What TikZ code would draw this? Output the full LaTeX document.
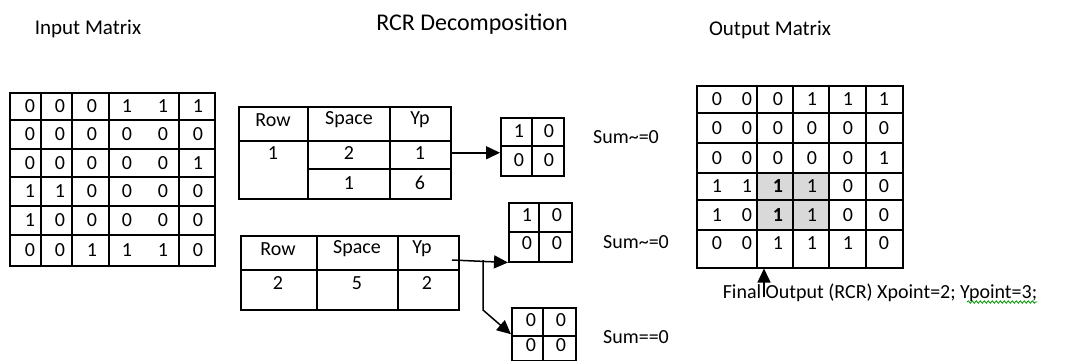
\documentclass[tikz,border=0pt]{standalone}
\usepackage{fontspec}
\setmainfont{Carlito}
\usetikzlibrary{arrows.meta,decorations.pathmorphing}

\tikzset{
  frame/.style={draw=black, line width=1.5pt, inner sep=0pt, anchor=north west},
  rule/.style={draw=black, line width=1.5pt},
  val/.style={font=\fontsize{20}{24}\selectfont, inner sep=0pt},
  title/.style={font=\fontsize{21}{24}\selectfont, inner sep=0pt},
  flow/.style={-{Triangle[length=14pt,width=13pt]}, line width=1.5pt},
}

\begin{document}
\begin{tikzpicture}[x=1pt,y=-1pt]
\useasboundingbox (0,0) rectangle (1067,360);

% headings
\node[title] (intitle) at (88,29) {Input Matrix};
\node[title, font=\fontsize{24}{28}\selectfont] (rcrtitle) at (472,24) {RCR Decomposition};
\node[title] (outtitle) at (770,30) {Output Matrix};

% input matrix
\node[frame, minimum width=205pt, minimum height=173pt] (inmat) at (9,92) {};
\foreach \x in {41,72,109,179} \draw[rule] (\x,92) -- (\x,265);
\foreach \y in {120,149,177,206,235} \draw[rule] (9,\y) -- (214,\y);
\foreach \row [count=\r] in {{0,0,0,1,1,1},{0,0,0,0,0,0},{0,0,0,0,0,1},{1,1,0,0,0,0},{1,0,0,0,0,0},{0,0,1,1,1,0}}
  \foreach \v [count=\c] in \row {
    \pgfmathsetmacro\xx{{30,60,92,127,163,198}[\c-1]}
    \pgfmathsetmacro\yy{{106,134,163,191,220,250}[\r-1]}
    \node[val] (in-\r-\c) at (\xx,\yy) {\v};
  }

% decomposition tables
\node[frame, minimum width=212pt, minimum height=92pt] (tabA) at (238,106) {};
\draw[rule] (308,106) -- (308,198);
\draw[rule] (390,106) -- (390,198);
\draw[rule] (238,141) -- (450,141);
\draw[rule] (308,169) -- (450,169);
\node[val] (tabA-row) at (273,120) {Row};
\node[val] (tabA-space) at (349,120) {Space};
\node[val] (tabA-yp) at (420,120) {Yp};
\node[val] (tabA-r) at (273,153) {1};
\node[val] (tabA-s1) at (349,153) {2};
\node[val] (tabA-y1) at (420,153) {1};
\node[val] (tabA-s2) at (349,183) {1};
\node[val] (tabA-y2) at (420,183) {6};

\node[frame, minimum width=218pt, minimum height=74pt] (tabB) at (240,235) {};
\draw[rule] (317,235) -- (317,309);
\draw[rule] (398,235) -- (398,309);
\draw[rule] (240,270) -- (458,270);
\node[val] (tabB-row) at (278,249) {Row};
\node[val] (tabB-space) at (357,249) {Space};
\node[val] (tabB-yp) at (422,249) {Yp};
\node[val] (tabB-r) at (278,283) {2};
\node[val] (tabB-s) at (357,283) {5};
\node[val] (tabB-y) at (427,283) {2};

% 2x2 blocks
\node[frame, minimum width=63pt, minimum height=58pt] (mA) at (500,117) {};
\draw[rule] (532,117) -- (532,175);
\draw[rule] (500,146) -- (563,146);
\node[val] (mA-11) at (519,131) {1};
\node[val] (mA-12) at (549,131) {0};
\node[val] (mA-21) at (519,160) {0};
\node[val] (mA-22) at (549,160) {0};

\node[frame, minimum width=63pt, minimum height=59pt] (mB) at (508,202) {};
\draw[rule] (539,202) -- (539,261);
\draw[rule] (508,232) -- (571,232);
\node[val] (mB-11) at (527,215) {1};
\node[val] (mB-12) at (557,215) {0};
\node[val] (mB-21) at (527,243) {0};
\node[val] (mB-22) at (557,243) {0};

\node[frame, minimum width=64pt, minimum height=53pt] (mC) at (511,307) {};
\draw[rule] (543,307) -- (543,360);
\draw[rule] (511,336) -- (575,336);
\node[val] (mC-11) at (531,320) {0};
\node[val] (mC-12) at (561,320) {0};
\node[val] (mC-21) at (531,345) {0};
\node[val] (mC-22) at (561,345) {0};

\node[val] (sumA) at (626,137) {Sum\~{}=0};
\node[val] (sumB) at (636,242) {Sum\~{}=0};
\node[val] (sumC) at (636,337) {Sum==0};

% output matrix
\fill[black!15] (757,173) rectangle (829,230);
\node[frame, minimum width=206pt, minimum height=182pt] (outmat) at (696,85) {};
\foreach \x in {757,793,829,866} \draw[rule] (\x,85) -- (\x,267);
\foreach \y in {113,143,173,200,230} \draw[rule] (696,\y) -- (902,\y);
\foreach \row [count=\r] in {{0,0,0,1,1,1},{0,0,0,0,0,0},{0,0,0,0,0,1},{1,1,\textbf{1},1,0,0},{1,0,\textbf{1},1,0,0},{0,0,1,1,1,0}}
  \foreach \v [count=\c] in \row {
    \pgfmathsetmacro\xx{{717,747,778,812,848,884}[\c-1]}
    \pgfmathsetmacro\yy{{99,128,158,186,215,243}[\r-1]}
    \node[val] (out-\r-\c) at (\xx,\yy) {\v};
  }

\node[val] (final) at (880,293) {Final Output (RCR) Xpoint=2; Ypoint=3;};
\draw[green!60!black, line width=0.8pt, decorate,
      decoration={snake, amplitude=1.2pt, segment length=4pt}] (967,302) -- (1037,302);

% connectors
\coordinate (tapB) at (452,260);
\coordinate (split) at (483,260);
\coordinate (bend) at (483,310);
\coordinate (ptr) at (764,297);
\draw[flow] (tabA.east) -- (tabA.east -| mA.west);
\draw[flow] (tapB) -- (mB.south west);
\draw[flow] (split) -- (bend) -- (mC.west);
\draw[flow] (ptr) -- (ptr |- outmat.south);
\end{tikzpicture}
\end{document}
